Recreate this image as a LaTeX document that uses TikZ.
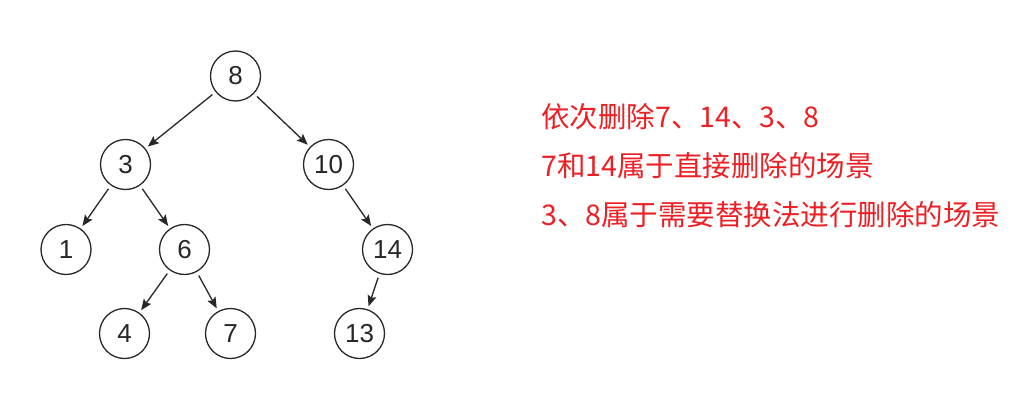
\documentclass[tikz,border=0pt]{standalone}
\usepackage{fontspec}
\setmainfont{Liberation Sans}
\newfontfamily\cjk{Noto Sans CJK SC}
\usetikzlibrary{arrows.meta}
\definecolor{txtred}{RGB}{236,32,36}
\definecolor{edgegray}{RGB}{40,40,40}
\tikzset{
  tnode/.style={circle, draw=edgegray, line width=1.3pt, minimum size=50pt, inner sep=0pt, font=\fontsize{26}{26}\selectfont, text=black!85},
  tedge/.style={draw=edgegray, line width=1.3pt, -{Stealth[length=11pt,width=9pt,inset=2pt]}, shorten <=4pt, shorten >=3pt},
  note/.style={anchor=west, text=txtred, inner sep=0pt, font=\cjk\fontsize{28.5}{28.5}\selectfont}
}
\begin{document}
\begin{tikzpicture}[x=1pt,y=-1pt]
\useasboundingbox (0,0) rectangle (1024,412);
\node[tnode] (n8) at (235.5,76) {8};
\node[tnode] (n3) at (125.5,164.5) {3};
\node[tnode] (n10) at (328.5,164.5) {10};
\node[tnode] (n1) at (66,249.5) {1};
\node[tnode] (n6) at (184.5,249.5) {6};
\node[tnode] (n14) at (387.5,249.5) {14};
\node[tnode] (n4) at (124.5,333.5) {4};
\node[tnode] (n7) at (230.5,333.5) {7};
\node[tnode] (n13) at (359.5,333.5) {13};
\draw[tedge] (n8) -- (n3);
\draw[tedge] (n8) -- (n10);
\draw[tedge] (n3) -- (n1);
\draw[tedge] (n3) -- (n6);
\draw[tedge] (n10) -- (n14);
\draw[tedge] (n6) -- (n4);
\draw[tedge] (n6) -- (n7);
\draw[tedge] (n14) -- (n13);
\node[note] (l1) at (541,117) {依次删除7、14、3、8};
\node[note] (l2) at (541,166) {7和14属于直接删除的场景};
\node[note] (l3) at (541,215) {3、8属于需要替换法进行删除的场景};
\end{tikzpicture}
\end{document}
